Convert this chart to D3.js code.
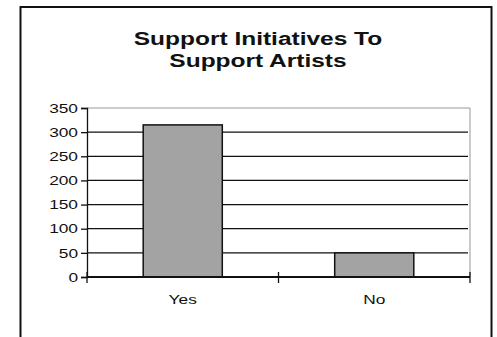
<!DOCTYPE html>
<html>
<head>
<meta charset="utf-8">
<script src="https://cdn.jsdelivr.net/npm/d3@7"></script>
<style>
  body { margin: 0; background: #fff; }
  svg text { font-family: "Liberation Sans", Arial, sans-serif; fill: #111; }
</style>
</head>
<body>
<svg id="chart" width="497" height="337"></svg>
<script>
// chart data
var titleLines = ["Support Initiatives To", "Support Artists"];
var categories = ["Yes", "No"];
var values = [315, 50];
var yTicks = [0, 50, 100, 150, 200, 250, 300, 350];

var svgWidth = 497, svgHeight = 337;
var margin = {top: 108, right: 27, bottom: 60, left: 87};
var stretch = 1.33; // the picture is a bit wider than tall

var svg = d3.select("#chart");

// outer frame (bottom runs off the picture)
svg.append("rect")
    .attr("x", 20.5).attr("y", 7)
    .attr("width", 471).attr("height", 340)
    .attr("fill", "none")
    .attr("stroke", "#111")
    .attr("stroke-width", 2);

// title
svg.append("g").selectAll("text")
    .data(titleLines)
    .enter().append("text")
    .attr("class", "title")
    .attr("x", 258)
    .attr("y", function(d, i) { return 45 + i * 22; })
    .attr("text-anchor", "middle")
    .style("font-size", "18px")
    .style("font-weight", "bold")
    .text(function(d) { return d; });

var x = d3.scaleBand()
    .domain(categories)
    .range([margin.left, svgWidth - margin.right])
    .paddingInner(0.587)
    .paddingOuter(0.2935);

var y = d3.scaleLinear()
    .domain([0, 350])
    .range([svgHeight - margin.bottom, margin.top]);

var x0 = x.range()[0], x1 = x.range()[1];

// plot area border (grey, top and right)
svg.append("path")
    .attr("d", "M" + x0 + "," + y(350) + "H" + x1 + "V" + y(0))
    .attr("fill", "none")
    .attr("stroke", "#999")
    .attr("stroke-width", 1);

// gridlines
svg.append("g").selectAll("line")
    .data(yTicks.filter(function(d) { return d > 0 && d < 350; }))
    .enter().append("line")
    .attr("x1", x0).attr("x2", x1 - 2)
    .attr("y1", function(d) { return y(d); })
    .attr("y2", function(d) { return y(d); })
    .attr("stroke", "#111")
    .attr("stroke-width", 1.3);

// bars
svg.append("g").selectAll("rect")
    .data(values)
    .enter().append("rect")
    .attr("x", function(d, i) { return x(categories[i]); })
    .attr("y", function(d) { return y(d); })
    .attr("width", x.bandwidth())
    .attr("height", function(d) { return y(0) - y(d); })
    .attr("fill", "#a3a3a3")
    .attr("stroke", "#111")
    .attr("stroke-width", 1.5);

// y axis
var gY = svg.append("g")
    .attr("transform", "translate(" + x0 + ",0)")
    .call(d3.axisLeft(y).tickValues(yTicks).tickSize(6).tickPadding(3));
gY.select(".domain").attr("stroke", "#111").attr("stroke-width", 1.3);
gY.selectAll(".tick line").attr("stroke", "#111").attr("stroke-width", 1.3);
gY.selectAll(".tick text")
    .attr("class", "lbl")
    .style("font-size", "13px")
    .style("font-family", "Liberation Sans, Arial, sans-serif");

// x axis with tick marks between categories
var bounds = [x0].concat(categories.map(function(c) {
    return x(c) + x.bandwidth() + x.step() * x.paddingInner() / 2;
}));
bounds[bounds.length - 1] = x1;

var gX = svg.append("g");
gX.append("line")
    .attr("x1", x0).attr("x2", x1)
    .attr("y1", y(0)).attr("y2", y(0))
    .attr("stroke", "#111").attr("stroke-width", 2);
gX.selectAll(".sep")
    .data(bounds)
    .enter().append("line")
    .attr("class", "sep")
    .attr("x1", function(d) { return d; }).attr("x2", function(d) { return d; })
    .attr("y1", y(0) - 5).attr("y2", y(0) + 6)
    .attr("stroke", "#111").attr("stroke-width", 1.3);
gX.selectAll("text")
    .data(categories)
    .enter().append("text")
    .attr("class", "lbl")
    .attr("x", function(d) { return x(d) + x.bandwidth() / 2; })
    .attr("y", y(0) + 27)
    .attr("text-anchor", "middle")
    .style("font-size", "13px")
    .text(function(d) { return d; });

// widen the text like in the picture
svg.selectAll("text").each(function() {
    var w = this.getComputedTextLength();
    var k = d3.select(this).classed("title") ? 1.36 : stretch;
    d3.select(this)
        .attr("textLength", w * k)
        .attr("lengthAdjust", "spacingAndGlyphs");
});
</script>
</body>
</html>
